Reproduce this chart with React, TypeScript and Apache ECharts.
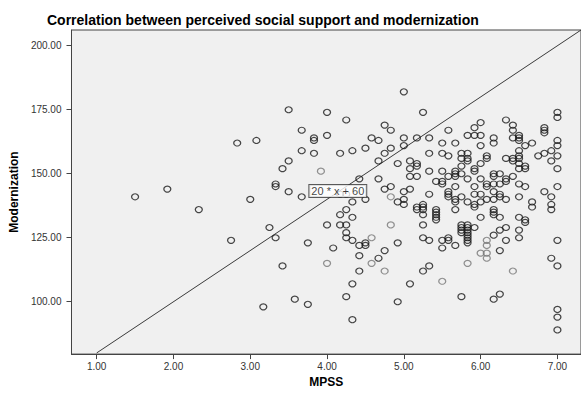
import React, { useEffect, useRef } from "react";
import * as echarts from "echarts";

const title = "Correlation between perceived social support and modernization";
const xName = "MPSS";
const yName = "Modernization";
const xTicks = [1, 2, 3, 4, 5, 6, 7];
const yTicks = [100, 125, 150, 175, 200];
const fitLabel = "20 * x + 60";
const fitSlope = 20;
const fitIntercept = 60;
const fitStartX = 1;
const fitLabelPoint: [number, number] = [4.14, 143.3];

// points grouped by MPSS column: [MPSS, list of Modernization values]
const darkColumns: [number, number[]][] = [
  [1.5, [141]],
  [1.92, [144]],
  [2.33, [136]],
  [2.75, [124]],
  [2.83, [162]],
  [3.0, [140]],
  [3.08, [163]],
  [3.17, [98]],
  [3.25, [129]],
  [3.33, [146, 145, 125]],
  [3.42, [152, 114]],
  [3.5, [175, 155, 143]],
  [3.58, [101]],
  [3.67, [167, 159, 141]],
  [3.75, [123, 99]],
  [3.83, [164, 163, 158]],
  [4.0, [174, 165, 130]],
  [4.08, [121]],
  [4.17, [158, 142, 134, 130]],
  [4.25, [171, 142, 136, 130, 127, 125, 102]],
  [4.33, [159, 139, 133, 124, 107, 93]],
  [4.42, [148, 122, 118, 112]],
  [4.5, [160, 140, 123, 122]],
  [4.58, [164]],
  [4.67, [163, 155, 148, 117]],
  [4.75, [169, 158, 144, 120]],
  [4.83, [167, 160, 145]],
  [4.92, [154, 139, 123, 100]],
  [5.0, [182, 164, 161, 143, 140, 138]],
  [5.08, [155, 152, 149, 144, 107]],
  [5.17, [164, 154, 153, 149, 137, 136]],
  [5.25, [174, 138, 137, 136, 134, 130, 125, 112]],
  [5.33, [164, 158, 151, 142, 124, 114]],
  [5.42, [147, 136, 135, 134, 133, 132]],
  [5.5, [162, 158, 151, 147, 146, 124, 121]],
  [5.58, [167, 157, 149, 143, 142, 141, 125, 124]],
  [5.67, [162, 151, 150, 149, 145, 140, 139, 136, 122]],
  [5.75, [158, 156, 153, 150, 141, 130, 129, 128, 127, 102]],
  [5.83, [165, 158, 156, 155, 148, 139, 130, 129, 128, 127, 126, 125, 124, 123]],
  [5.92, [168, 165, 152, 151, 145, 142, 138, 137, 129]],
  [6.0, [170, 165, 161, 154, 148, 142, 139, 133]],
  [6.08, [157, 156, 146, 145, 140]],
  [6.17, [164, 162, 150, 149, 146, 143, 140, 136, 135, 134, 126, 101]],
  [6.25, [150, 146, 142, 141, 133, 128, 120, 103]],
  [6.33, [171, 156, 148, 147, 140, 129, 124]],
  [6.42, [169, 167, 164, 156, 155, 149]],
  [6.5, [165, 164, 163, 159, 157, 156, 154, 152, 146, 141, 133, 128, 125]],
  [6.58, [161, 153, 152, 145, 132, 131]],
  [6.67, [162, 139, 137]],
  [6.75, [157]],
  [6.83, [168, 167, 166, 158, 143]],
  [6.92, [159, 155, 141, 138, 136, 117]],
  [7.0, [174, 172, 163, 161, 157, 152, 145, 124, 114, 97, 94, 89]],
];

const greyColumns: [number, number[]][] = [
  [3.92, [151]],
  [4.0, [115]],
  [4.58, [125, 115]],
  [4.75, [112]],
  [4.83, [141, 130]],
  [5.5, [108]],
  [5.83, [115]],
  [6.0, [119]],
  [6.08, [124, 122, 119, 117]],
  [6.42, [112]],
];

const flatten = (cols: [number, number[]][]) =>
  cols.flatMap(([x, ys]) => ys.map((y) => [x, y]));

export default function App() {
  const ref = useRef<HTMLDivElement>(null);
  useEffect(() => {
    if (!ref.current) return;
    const chart = echarts.init(ref.current, undefined, { renderer: "svg" });
    const xMin = 0.672;
    const xMax = 7.307;
    const yMin = 79.55;
    const yMax = 206.15;
    const axisColor = "#444";
    const labelStyle = {
      color: "#333",
      fontSize: 10,
      fontFamily: "Liberation Sans, Arial, sans-serif",
      formatter: (v: number) => v.toFixed(2),
    };
    const symbolSize = [7, 6];
    chart.setOption({
      animation: false,
      backgroundColor: "#fff",
      title: {
        text: title,
        left: 42,
        top: 8,
        textStyle: {
          fontSize: 14,
          fontWeight: "bold",
          color: "#000",
          fontFamily: "Liberation Sans, Arial, sans-serif",
        },
      },
      grid: {
        left: 69,
        right: 0,
        top: 30,
        bottom: 33,
        show: true,
        backgroundColor: "#f0f0f0",
        borderColor: axisColor,
        borderWidth: 1,
      },
      xAxis: {
        type: "value",
        min: xMin,
        max: xMax,
        name: xName,
        nameLocation: "middle",
        nameGap: 17,
        nameTextStyle: {
          fontSize: 12,
          fontWeight: "bold",
          color: "#000",
          fontFamily: "Liberation Sans, Arial, sans-serif",
          verticalAlign: "top",
        },
        axisLine: { show: true, lineStyle: { color: axisColor } },
        axisTick: { show: true, length: 5, customValues: xTicks, lineStyle: { color: axisColor } },
        axisLabel: { ...labelStyle, margin: 7, customValues: xTicks },
        splitLine: { show: false },
      },
      yAxis: {
        type: "value",
        min: yMin,
        max: yMax,
        name: yName,
        nameLocation: "middle",
        nameGap: 41,
        nameTextStyle: {
          fontSize: 12,
          fontWeight: "bold",
          color: "#000",
          fontFamily: "Liberation Sans, Arial, sans-serif",
        },
        axisLine: { show: true, lineStyle: { color: axisColor } },
        axisTick: { show: true, length: 5, customValues: yTicks, lineStyle: { color: axisColor } },
        axisLabel: { ...labelStyle, margin: 10, customValues: yTicks },
        splitLine: { show: false },
      },
      series: [
        {
          type: "line",
          data: [
            [fitStartX, fitSlope * fitStartX + fitIntercept],
            [xMax + 0.5, fitSlope * (xMax + 0.5) + fitIntercept],
          ],
          symbol: "none",
          clip: true,
          lineStyle: { color: "#3a3a3a", width: 1 },
          z: 1,
          silent: true,
        },
        {
          type: "scatter",
          data: flatten(greyColumns),
          symbol: "circle",
          symbolSize,
          itemStyle: { color: "rgba(0,0,0,0)", borderColor: "#777", borderWidth: 1.2 },
          z: 2,
        },
        {
          type: "scatter",
          data: flatten(darkColumns),
          symbol: "circle",
          symbolSize,
          itemStyle: { color: "rgba(0,0,0,0)", borderColor: "#1a1a1a", borderWidth: 1.2 },
          z: 3,
        },
        {
          type: "scatter",
          data: [fitLabelPoint],
          symbolSize: 1,
          itemStyle: { color: "rgba(0,0,0,0)" },
          z: 5,
          label: {
            show: true,
            position: "inside",
            formatter: fitLabel,
            backgroundColor: "#fff",
            borderColor: "#333",
            borderWidth: 1,
            padding: [1, 2, 0, 2],
            fontSize: 11,
            color: "#111",
            fontFamily: "Liberation Sans, Arial, sans-serif",
          },
        },
      ],
    });
    return () => chart.dispose();
  }, []);
  return (
    <div
      ref={ref}
      style={{ position: "absolute", left: 0, top: 0, width: 581, height: 393 }}
    />
  );
}
